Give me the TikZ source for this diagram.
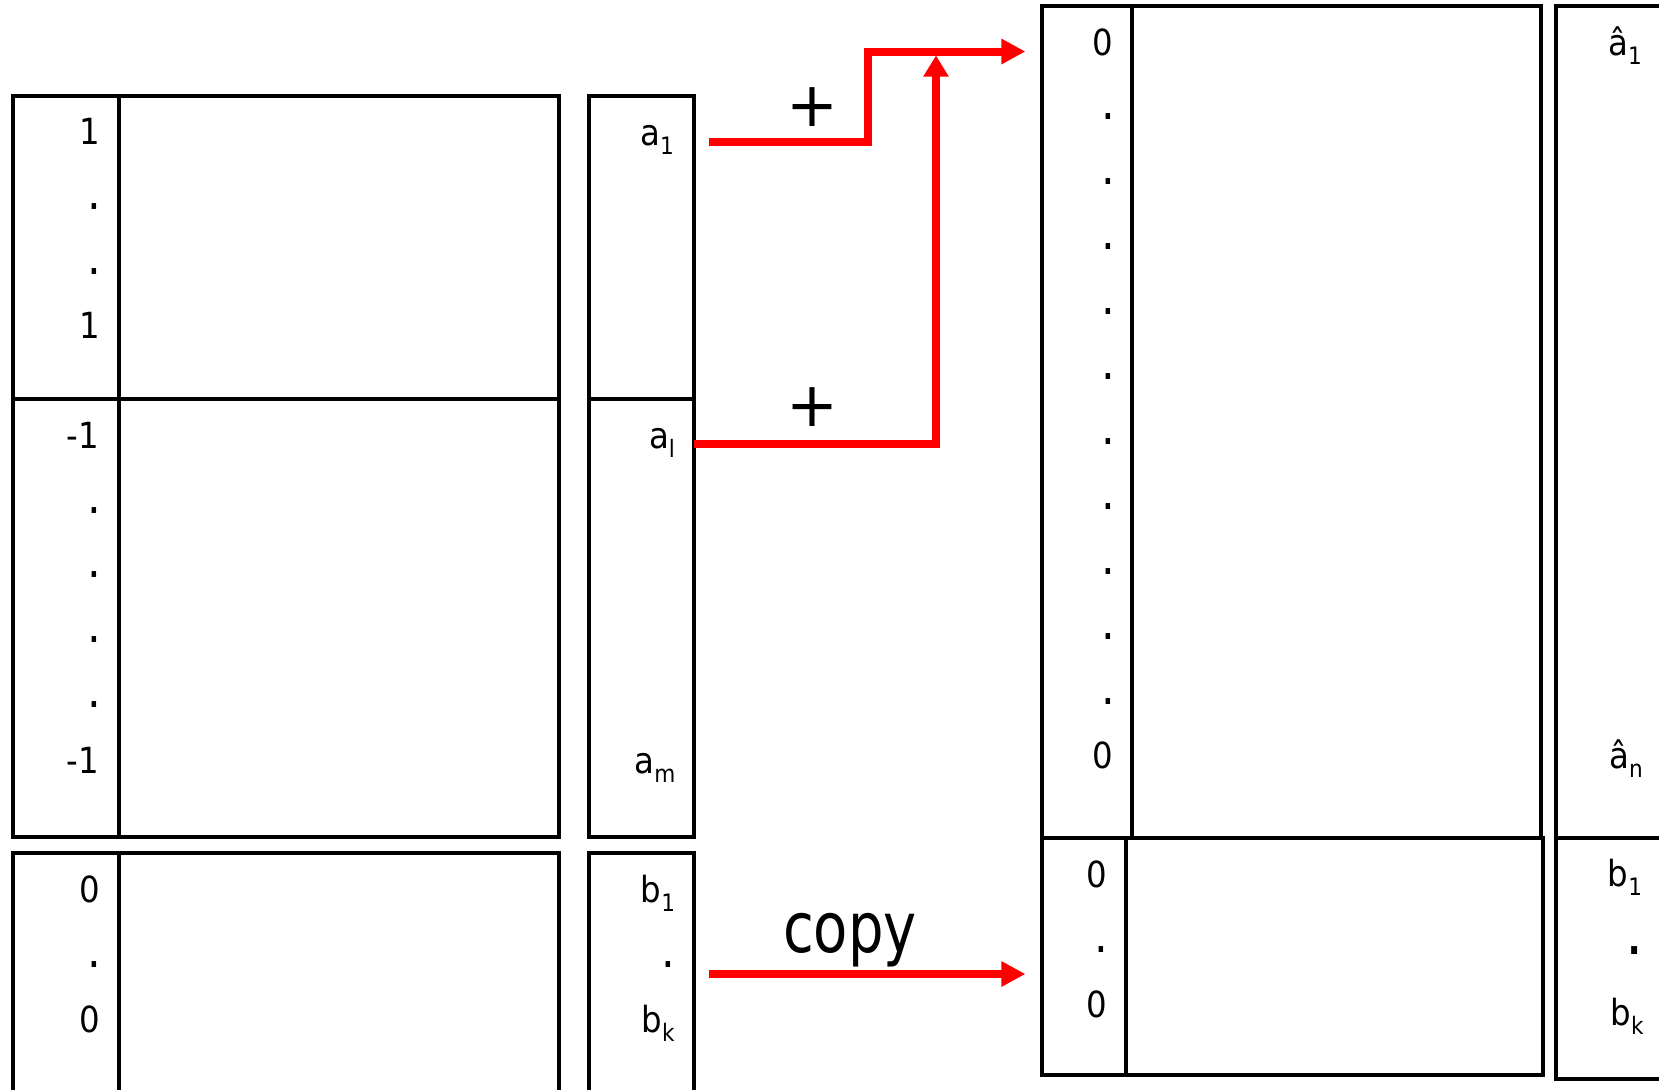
\documentclass[tikz,border=0pt]{standalone}
\usepackage{fontspec}
\setmainfont{DejaVu Sans}[FakeStretch=0.9]
\newfontfamily\copyfont{DejaVu Sans}[FakeStretch=0.8]
\newfontfamily\plusfont{DejaVu Sans}
\usetikzlibrary{arrows.meta,fit}
% lowered index after a letter
\newcommand\lowsub[1]{\raisebox{-4.5pt}{\fontsize{12}{14}\selectfont #1}}
% ellipsis dot of the columns
\newcommand\cdotmark{{\fontsize{24}{26}\selectfont .}}

\begin{document}
\begin{tikzpicture}[x=0.5pt,y=-0.5pt,
  frame/.style={draw=black, line width=1.6pt, inner sep=0pt},
  rule/.style={draw=black, line width=1.6pt},
  lab/.style={inner sep=0pt, anchor=base, font=\fontsize{18}{20}\selectfont},
  plus/.style={inner sep=0pt, font=\plusfont\fontsize{31}{34}\selectfont},
  flow/.style={draw=red, line width=4pt, -{Triangle[length=12pt,width=12pt]}}]
\useasboundingbox (0,0) rectangle (1659,1089);
\clip (0,0) rectangle (1659,1089);

% ---- left matrix: upper block (1 ... 1 / -1 ... -1) and lower block (0 . 0)
\node[frame, fit={(13,96) (559,399)}] (AU) {};
\node[frame, fit={(13,399) (559,837)}] (AL) {};
\draw[rule] (119,96) -- (119,837);
\node[frame, fit={(13,853) (559,1100)}] (B) {};
\draw[rule] (119,853) -- (119,1100);

% ---- right-hand side vectors a and b
\node[frame, fit={(589,96) (694,399)}] (aU) {};
\node[frame, fit={(589,399) (694,837)}] (aL) {};
\node[frame, fit={(589,853) (694,1100)}] (bV) {};

% ---- resulting matrix and vector
\node[frame, fit={(1042,6) (1541,838)}] (RU) {};
\draw[rule] (1132,6) -- (1132,838);
\node[frame, fit={(1042,838) (1543,1075)}] (RL) {};
\draw[rule] (1126,838) -- (1126,1075);
\node[frame, fit={(1556,6) (1720,838)}] (hU) {};
\node[frame, fit={(1556,838) (1720,1079)}] (hL) {};

% ---- first column of the left matrix
\node[lab] (l1) at (90,144) {1};
\node[lab] (l2) at (94,209.5) {\cdotmark};
\node[lab] (l3) at (94,274) {\cdotmark};
\node[lab] (l4) at (90,338) {1};
\node[lab] (l5) at (82.5,448) {-1};
\foreach \yy [count=\i] in {513,577,642,707}
  \node[lab] (ld\i) at (94,\yy) {\cdotmark};
\node[lab] (l6) at (82.5,773) {-1};
\node[lab] (m1) at (89.5,902) {0};
\node[lab] (m2) at (94,967) {\cdotmark};
\node[lab] (m3) at (89.5,1032) {0};

% ---- entries of a and b
\node[lab] (a1) at (657,145) {a\lowsub{1}};
\node[lab] (al) at (662,448) {a\lowsub{l}};
\node[lab] (am) at (655,773) {a\lowsub{m}};
\node[lab] (b1) at (658,902) {b\lowsub{1}};
\node[lab] (bd) at (668,967) {\cdotmark};
\node[lab] (bk) at (658,1032) {b\lowsub{k}};

% ---- first column of the resulting matrix
\node[lab] (r0) at (1102.5,55) {0};
\foreach \i in {0,...,9}
  \node[lab] (rd\i) at (1108,{119.5+65*\i}) {\cdotmark};
\node[lab] (rn) at (1102.5,768) {0};
\node[lab] (q1) at (1097,887) {0};
\node[lab] (q2) at (1101.5,952) {\cdotmark};
\node[lab] (q3) at (1097,1017) {0};

% ---- entries of the resulting vector
\node[lab] (h1) at (1625,55) {â\lowsub{1}};
\node[lab] (hn) at (1626,768) {â\lowsub{n}};
\node[lab] (hb1) at (1625,886) {b\lowsub{1}};
\node[lab] (hbd) at (1634.5,954) {\fontsize{32}{34}\selectfont .};
\node[lab] (hbk) at (1627,1025) {b\lowsub{k}};

% ---- operation labels
\node[plus] (pl1) at (812,107.5) {+};
\node[plus] (pl2) at (812,407) {+};
\node[inner sep=0pt, anchor=base, font=\copyfont\fontsize{35}{40}\selectfont] (cp) at (850,952) {copy};

% ---- connectors
\coordinate (s1) at (709,142);
\coordinate (s2) at (694,444);
\coordinate (s3) at (709,974);
\coordinate (k1) at (868,51.5);
\coordinate (k2) at (936,51.5);
\draw[flow, shorten >=7.5pt] (s1) -| (k1) -- (k1 -| RU.west);
\draw[flow, -{Triangle[length=10.5pt,width=12pt]}, shorten >=2pt] (s2) -| (k2);
\draw[flow, shorten >=7.5pt] (s3) -- (s3 -| RL.west);
\end{tikzpicture}
\end{document}
